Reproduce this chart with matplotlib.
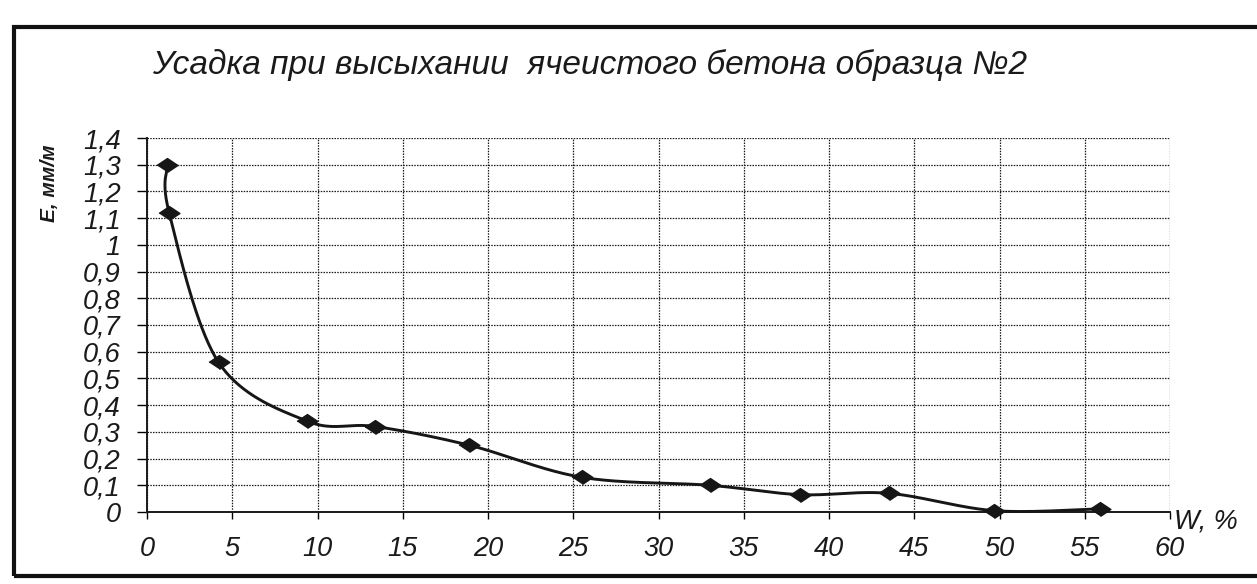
import matplotlib
matplotlib.use("Agg")
import matplotlib.pyplot as plt
import numpy as np
from matplotlib.patches import Rectangle

plt.rcParams["font.family"] = ["Liberation Sans", "DejaVu Sans"]

# ---------------------------------------------------------------- data --------
W = [1.2, 1.3, 4.2, 9.4, 13.4, 18.9, 25.5, 33.0, 38.3, 43.5, 49.7, 55.9]
E = [1.30, 1.12, 0.56, 0.34, 0.32, 0.25, 0.13, 0.10, 0.065, 0.07, 0.005, 0.012]

TITLE = "Усадка при высыхании  ячеистого бетона образца №2"
YLABEL = "E, мм/м"
XLABEL = "W, %"
XMAX, YMAX = 60, 1.4

# ---------------------------------------------------------------- figure ------
FW, FH = 1257, 584
fig = plt.figure(figsize=(FW / 100, FH / 100), dpi=100)
fig.patch.set_facecolor("white")

L, R, T, B = 147, 1170, 138, 512
ax = fig.add_axes([L / FW, 1 - B / FH, (R - L) / FW, (B - T) / FH])


# Excel-like smoothed line (Catmull-Rom through the markers, in screen units)
def smooth(xs, ys, n=40):
    px = np.asarray(xs) / XMAX * (R - L)
    py = np.asarray(ys) / YMAX * (B - T)
    P = np.column_stack([px, py])
    P = np.vstack([P[0], P, P[-1]])
    out = []
    for i in range(1, len(P) - 2):
        p0, p1, p2, p3 = P[i - 1], P[i], P[i + 1], P[i + 2]
        c1 = p1 + (p2 - p0) / 6
        c2 = p2 - (p3 - p1) / 6
        t = np.linspace(0, 1, n)[:, None]
        seg = ((1 - t) ** 3 * p1 + 3 * (1 - t) ** 2 * t * c1
               + 3 * (1 - t) * t ** 2 * c2 + t ** 3 * p2)
        out.append(seg)
    S = np.vstack(out)
    return S[:, 0] / (R - L) * XMAX, S[:, 1] / (B - T) * YMAX


sx, sy = smooth(W, E)
ax.plot(sx, sy, color="#161616", lw=2.1, zorder=4, clip_on=False)

diamond = [(-1.5, 0), (0, 1), (1.5, 0), (0, -1)]
ax.plot(W, E, ls="none", marker=diamond, ms=15, color="#161616",
        zorder=5, clip_on=False)

ax.set_xlim(0, XMAX)
ax.set_ylim(0, YMAX)
xt = np.arange(0, XMAX + 1, 5)
yt = np.round(np.arange(0, YMAX + 0.01, 0.1), 1)
ax.set_xticks(xt)
ax.set_yticks(yt)
ax.set_xticklabels([f"{v:g}" for v in xt])
ax.set_yticklabels([f"{v:g}".replace(".", ",") for v in yt])
for lab in ax.get_xticklabels() + ax.get_yticklabels():
    lab.set_fontstyle("italic")
    lab.set_fontsize(19.5)
    lab.set_color("#1a1a1a")
ax.tick_params(axis="y", length=7, width=1.0, pad=12, direction="out")
ax.tick_params(axis="x", length=5, width=1.0, pad=12, direction="out")

ax.grid(True, color="#1a1a1a", linestyle=(0, (1.2, 1.0)), linewidth=0.9)
ax.set_axisbelow(True)
for sp in ("top", "right"):
    ax.spines[sp].set_visible(False)
for sp in ("left", "bottom"):
    ax.spines[sp].set_color("#1a1a1a")
    ax.spines[sp].set_linewidth(1.4)

ax.text(1.004, 0.01, XLABEL, transform=ax.transAxes, fontsize=19.5,
        fontstyle="italic", ha="left", va="top", color="#1a1a1a")
fig.text(50 / FW, 1 - 183 / FH, YLABEL, rotation=90, fontsize=15,
         fontweight="bold", fontstyle="italic", ha="center", va="center",
         color="#1a1a1a")
fig.text(152 / FW, 1 - 74 / FH, TITLE, fontsize=24, fontstyle="italic",
         ha="left", va="baseline", color="#1a1a1a")

# chart frame
fig.add_artist(Rectangle((14 / FW, 8 / FH), 1.2, 1 - 35 / FH, fill=False,
                         edgecolor="#111111", linewidth=3,
                         transform=fig.transFigure, clip_on=False))

fig.savefig("out.png", dpi=100)
